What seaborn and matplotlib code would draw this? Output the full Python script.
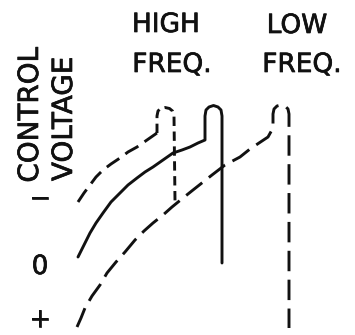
import matplotlib
matplotlib.use("Agg")
import matplotlib.pyplot as plt
import matplotlib.patheffects as pe
import seaborn as sns

# curves (x right, y down, same units as the image)
hf_curve_x = [78, 84, 90, 96, 103, 111, 120, 128, 137, 147, 157]
hf_curve_y = [202, 193, 185, 177, 170, 164, 158, 152, 147, 140, 133]
hf_hook_x = [157, 157, 158, 160.5, 165, 169.5, 172.5, 174, 175]
hf_hook_y = [133, 116, 111, 108.5, 107.5, 108.5, 111, 116, 201]

solid_x = [78, 84, 90, 96, 103, 111, 120, 128, 137, 145, 153, 163, 173, 182, 190, 198, 205,
           205, 206, 209, 213.5, 218, 221, 222, 222]
solid_y = [257, 245, 233, 223, 213, 202, 193, 185, 178, 172, 167, 160, 153, 150, 147, 143, 140,
           116, 110, 107, 105.5, 107, 110, 116, 263]

lf_x = [77, 81, 85, 92, 100, 107, 116, 125, 135, 144, 153, 163, 172, 183, 193, 212, 225, 240,
        250, 268, 273, 273, 274, 277, 281, 285, 288, 289, 289]
lf_y = [327, 318, 308, 296, 285, 273, 262, 252, 240, 231, 223, 215, 207, 198, 190, 175, 165, 157,
        149, 137, 128, 114, 109, 106, 105, 106, 109, 114, 328]

tick_labels = ["\u2212", "0", "+"]
tick_pos = [199, 267, 320]

sns.set_theme(style="white")
plt.rcParams["font.family"] = ["DejaVu Sans"]

fig = plt.figure(figsize=(3.55, 3.35), dpi=100)
ax = fig.add_axes([0, 0, 1, 1])
ink = "#111111"
lw = 2.1

sns.lineplot(x=hf_curve_x, y=hf_curve_y, ax=ax, sort=False, estimator=None,
             color=ink, lw=lw, linestyle=(0, (5.2, 2.6)))
sns.lineplot(x=hf_hook_x, y=hf_hook_y, ax=ax, sort=False, estimator=None,
             color=ink, lw=lw, linestyle=(0, (3.2, 1.9)))
sns.lineplot(x=solid_x, y=solid_y, ax=ax, sort=False, estimator=None,
             color=ink, lw=lw)
sns.lineplot(x=lf_x, y=lf_y, ax=ax, sort=False, estimator=None,
             color=ink, lw=lw, linestyle=(0, (7, 2.9)))

ax.set_xlim(0, 355)
ax.set_ylim(335, 0)
ax.axis("off")

fs = 19
bold = [pe.withStroke(linewidth=0.5, foreground=ink)]
ax.text(166, 32, "HIGH", ha="center", va="baseline", fontsize=fs, color=ink, path_effects=bold)
ax.text(172, 72, "FREQ.", ha="center", va="baseline", fontsize=fs, color=ink, path_effects=bold)
ax.text(297, 33, "LOW", ha="center", va="baseline", fontsize=fs, color=ink, path_effects=bold)
ax.text(302, 72, "FREQ.", ha="center", va="baseline", fontsize=fs, color=ink, path_effects=bold)

ax.text(38, 115, "CONTROL", rotation=90, rotation_mode="anchor",
        ha="center", va="baseline", fontsize=20, color=ink, path_effects=bold)
ax.text(72, 119, "VOLTAGE", rotation=90, rotation_mode="anchor",
        ha="center", va="baseline", fontsize=20, color=ink, path_effects=bold)

for lab, yp in zip(tick_labels, tick_pos):
    ax.text(40, yp, lab, ha="center", va="center", fontsize=fs, color=ink, path_effects=bold)

fig.savefig("out.png", dpi=100, facecolor="white")
